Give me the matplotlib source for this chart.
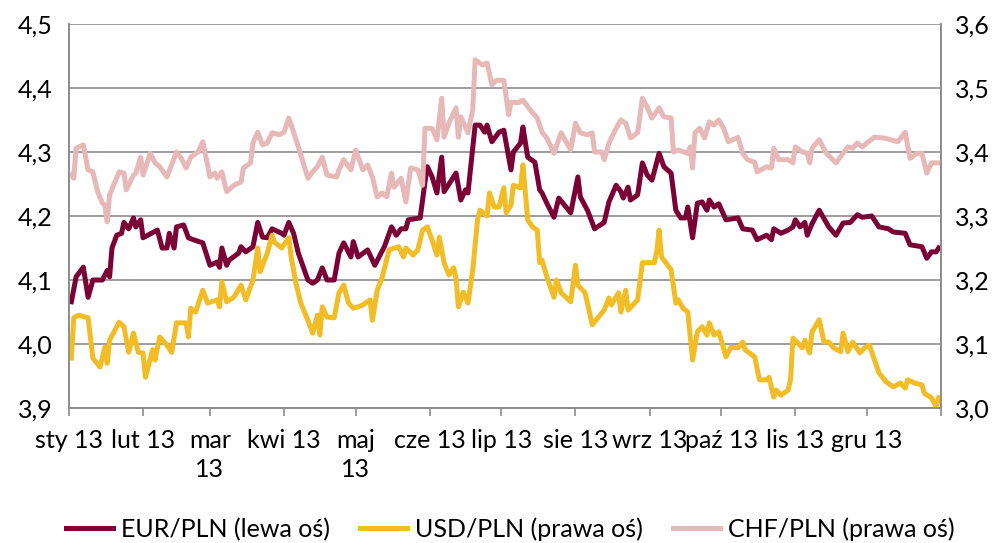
import matplotlib
matplotlib.use('Agg')
import matplotlib.pyplot as plt
import pandas as pd

plt.rcParams['font.family'] = ['Lato', 'DejaVu Sans']

start = pd.Timestamp('2013-01-01')

# day offsets from 1 Jan 2013 and values
eur_days = [1, 3, 6, 8, 10, 14, 16, 17, 18, 20, 22, 23, 25, 27, 28, 30, 31, 37, 39, 41,
            42, 44, 45, 48, 50, 52, 56, 59, 62, 63, 64, 66, 67, 71, 72, 74, 77, 79, 81, 83,
            85, 89, 90, 92, 94, 96, 100, 102, 104, 106, 108, 111, 113, 115, 118, 119, 121, 125, 128, 132,
            135, 137, 139, 141, 142, 147, 149, 150, 152, 154, 156, 157, 162, 164, 166, 167, 170, 172, 174, 175,
            177, 180, 182, 185, 186, 189, 190, 192, 195, 197, 198, 200, 203, 205, 210, 213, 214, 217, 220, 224,
            226, 229, 231, 232, 234, 235, 238, 240, 242, 244, 247, 249, 252, 254, 256, 258, 259, 261, 263, 265,
            267, 268, 270, 272, 275, 280, 282, 286, 288, 292, 294, 295, 298, 301, 303, 304, 306, 308, 309, 311,
            314, 318, 321, 324, 327, 330, 332, 336, 339, 343, 345, 350, 352, 357, 359, 361, 363, 364]
eur_pln = [4.066, 4.105, 4.12, 4.073, 4.10, 4.10, 4.115, 4.105, 4.15, 4.17, 4.173, 4.19, 4.18, 4.197, 4.183, 4.194, 4.166, 4.178, 4.15, 4.15,
           4.173, 4.15, 4.183, 4.186, 4.166, 4.163, 4.158, 4.123, 4.128, 4.12, 4.15, 4.123, 4.131, 4.142, 4.152, 4.144, 4.152, 4.19, 4.167, 4.166,
           4.18, 4.173, 4.17, 4.19, 4.173, 4.142, 4.10, 4.095, 4.10, 4.119, 4.10, 4.10, 4.142, 4.158, 4.136, 4.16, 4.136, 4.147, 4.123, 4.152,
           4.183, 4.17, 4.18, 4.18, 4.194, 4.197, 4.253, 4.277, 4.261, 4.236, 4.292, 4.238, 4.267, 4.225, 4.241, 4.236, 4.342, 4.342, 4.331, 4.342,
           4.316, 4.331, 4.334, 4.272, 4.30, 4.314, 4.339, 4.292, 4.284, 4.241, 4.236, 4.22, 4.198, 4.228, 4.205, 4.261, 4.23, 4.209, 4.18, 4.19,
           4.222, 4.248, 4.238, 4.228, 4.245, 4.225, 4.233, 4.283, 4.264, 4.256, 4.298, 4.277, 4.267, 4.209, 4.197, 4.197, 4.214, 4.166, 4.22, 4.222,
           4.209, 4.225, 4.214, 4.219, 4.194, 4.197, 4.18, 4.178, 4.163, 4.17, 4.163, 4.18, 4.173, 4.178, 4.183, 4.194, 4.183, 4.19, 4.17, 4.188,
           4.209, 4.183, 4.17, 4.189, 4.19, 4.202, 4.198, 4.20, 4.183, 4.18, 4.175, 4.173, 4.155, 4.152, 4.134, 4.144, 4.144, 4.15]

usd_days = [1, 2, 4, 8, 10, 13, 15, 16, 17, 21, 23, 25, 27, 29, 31, 32, 35, 36, 38, 41,
            43, 45, 49, 50, 51, 53, 56, 58, 62, 63, 64, 66, 69, 72, 74, 77, 79, 80, 83, 85,
            86, 89, 92, 93, 95, 97, 100, 102, 104, 105, 106, 108, 111, 113, 115, 117, 119, 121, 123, 126,
            127, 129, 131, 134, 138, 140, 141, 144, 146, 148, 150, 152, 154, 155, 157, 159, 161, 162, 163, 165,
            167, 169, 171, 172, 175, 176, 178, 180, 182, 183, 185, 186, 189, 190, 192, 194, 196, 197, 198, 200,
            203, 204, 206, 208, 210, 212, 213, 216, 217, 219, 224, 226, 227, 230, 231, 233, 234, 238, 240, 242,
            245, 246, 247, 248, 252, 254, 255, 257, 259, 261, 263, 265, 267, 268, 270, 272, 275, 277, 280, 282,
            283, 287, 289, 292, 293, 295, 296, 298, 301, 302, 303, 305, 307, 308, 310, 311, 312, 314, 316, 318,
            320, 323, 324, 326, 328, 331, 333, 335, 339, 342, 345, 348, 350, 351, 354, 357, 358, 361, 363, 364]
usd_pln = [3.078, 3.141, 3.145, 3.141, 3.078, 3.064, 3.095, 3.07, 3.106, 3.134, 3.127, 3.087, 3.117, 3.087, 3.086, 3.048, 3.091, 3.075, 3.111, 3.098,
           3.087, 3.133, 3.133, 3.111, 3.156, 3.15, 3.184, 3.164, 3.169, 3.158, 3.197, 3.166, 3.173, 3.192, 3.169, 3.20, 3.25, 3.213, 3.242, 3.27,
           3.259, 3.25, 3.266, 3.236, 3.195, 3.164, 3.137, 3.117, 3.145, 3.114, 3.158, 3.142, 3.141, 3.18, 3.192, 3.164, 3.156, 3.158, 3.161, 3.169,
           3.137, 3.184, 3.203, 3.247, 3.252, 3.236, 3.25, 3.239, 3.247, 3.278, 3.283, 3.262, 3.239, 3.267, 3.227, 3.208, 3.219, 3.203, 3.158, 3.181,
           3.164, 3.216, 3.294, 3.309, 3.30, 3.336, 3.314, 3.314, 3.344, 3.305, 3.317, 3.348, 3.344, 3.38, 3.294, 3.283, 3.278, 3.227, 3.231, 3.205,
           3.173, 3.20, 3.18, 3.173, 3.166, 3.223, 3.192, 3.18, 3.164, 3.13, 3.153, 3.172, 3.161, 3.18, 3.15, 3.184, 3.153, 3.169, 3.227, 3.227,
           3.227, 3.244, 3.278, 3.236, 3.216, 3.164, 3.169, 3.156, 3.15, 3.075, 3.119, 3.127, 3.114, 3.133, 3.114, 3.119, 3.08, 3.095, 3.094, 3.103,
           3.091, 3.08, 3.044, 3.044, 3.048, 3.017, 3.028, 3.02, 3.028, 3.044, 3.109, 3.102, 3.094, 3.106, 3.086, 3.119, 3.125, 3.138, 3.103, 3.103,
           3.094, 3.088, 3.117, 3.088, 3.103, 3.086, 3.094, 3.098, 3.055, 3.041, 3.033, 3.039, 3.031, 3.044, 3.039, 3.036, 3.023, 3.016, 3.002, 3.016]

chf_days = [1, 2, 3, 6, 8, 10, 12, 14, 15, 16, 17, 21, 23, 24, 27, 28, 30, 31, 34, 36,
            38, 41, 45, 47, 49, 51, 54, 56, 59, 61, 62, 64, 66, 69, 72, 73, 76, 77, 79, 81,
            83, 85, 88, 90, 92, 94, 96, 100, 102, 104, 106, 108, 112, 113, 115, 118, 120, 123, 125, 127,
            129, 131, 133, 135, 136, 139, 141, 143, 146, 148, 149, 152, 154, 156, 157, 159, 162, 163, 164, 167,
            169, 170, 173, 175, 177, 179, 182, 184, 185, 188, 190, 193, 196, 198, 200, 203, 206, 210, 212, 214,
            217, 219, 220, 223, 224, 226, 229, 231, 233, 235, 238, 240, 242, 244, 247, 249, 252, 253, 255, 259,
            260, 261, 262, 264, 266, 268, 270, 272, 274, 276, 280, 282, 284, 287, 288, 292, 294, 295, 297, 301,
            303, 304, 307, 309, 310, 311, 314, 317, 321, 326, 328, 330, 332, 334, 337, 341, 344, 347, 350, 352,
            355, 357, 359, 361, 364]
chf_pln = [3.364, 3.359, 3.406, 3.411, 3.372, 3.369, 3.338, 3.32, 3.317, 3.291, 3.333, 3.369, 3.367, 3.341, 3.364, 3.367, 3.392, 3.364, 3.398, 3.383,
           3.377, 3.361, 3.40, 3.39, 3.375, 3.392, 3.40, 3.416, 3.361, 3.367, 3.359, 3.369, 3.338, 3.348, 3.353, 3.375, 3.383, 3.414, 3.431, 3.411,
           3.414, 3.43, 3.427, 3.431, 3.453, 3.431, 3.408, 3.359, 3.369, 3.377, 3.392, 3.364, 3.361, 3.372, 3.388, 3.372, 3.403, 3.372, 3.38, 3.361,
           3.33, 3.336, 3.33, 3.367, 3.345, 3.359, 3.322, 3.375, 3.372, 3.348, 3.437, 3.437, 3.419, 3.484, 3.423, 3.445, 3.469, 3.423, 3.455, 3.43,
           3.466, 3.544, 3.536, 3.539, 3.505, 3.512, 3.512, 3.458, 3.478, 3.477, 3.481, 3.466, 3.453, 3.431, 3.422, 3.398, 3.43, 3.403, 3.445, 3.43,
           3.427, 3.43, 3.40, 3.40, 3.388, 3.414, 3.437, 3.45, 3.445, 3.422, 3.43, 3.484, 3.47, 3.453, 3.469, 3.455, 3.453, 3.40, 3.403, 3.398,
           3.408, 3.375, 3.43, 3.437, 3.422, 3.447, 3.442, 3.45, 3.437, 3.416, 3.423, 3.398, 3.388, 3.384, 3.369, 3.377, 3.375, 3.406, 3.388, 3.388,
           3.383, 3.408, 3.40, 3.398, 3.383, 3.406, 3.419, 3.398, 3.383, 3.408, 3.406, 3.414, 3.408, 3.414, 3.423, 3.422, 3.419, 3.416, 3.431, 3.39,
           3.398, 3.398, 3.367, 3.383, 3.383]

month_labels = ['sty 13', 'lut 13', 'mar\n13', 'kwi 13', 'maj\n13', 'cze 13', 'lip 13',
                'sie 13', 'wrz 13', 'paź 13', 'lis 13', 'gru 13', '']
left_ticks = [3.9, 4.0, 4.1, 4.2, 4.3, 4.4, 4.5]
right_ticks = [3.0, 3.1, 3.2, 3.3, 3.4, 3.5, 3.6]


def to_dates(days):
    return start + pd.to_timedelta(days, unit='D')


grey = '#8c8c8c'
fs = 18

fig = plt.figure(figsize=(10.04, 5.43), dpi=100)
ax = fig.add_axes([0.0687, 0.2486, 0.8686, 0.7072])
ax2 = ax.twinx()

l1, = ax.plot(to_dates(eur_days), eur_pln, color='#7a0036', lw=3.6, solid_joinstyle='round')
l2, = ax2.plot(to_dates(usd_days), usd_pln, color='#f2bc26', lw=3.6, solid_joinstyle='round')
l3, = ax2.plot(to_dates(chf_days), chf_pln, color='#e6b8b7', lw=3.6, solid_joinstyle='round')
# keep CHF under the other lines
l3.set_zorder(1)
l2.set_zorder(2)

ax.set_ylim(3.9, 4.5)
ax2.set_ylim(3.0, 3.6)
ax.set_yticks(left_ticks)
ax.set_yticklabels([f'{v:.1f}'.replace('.', ',') for v in left_ticks])
ax2.set_yticks(right_ticks)
ax2.set_yticklabels([f'{v:.1f}'.replace('.', ',') for v in right_ticks])

ax.set_xlim(pd.Timestamp('2013-01-01'), pd.Timestamp('2014-01-01'))
ticks = pd.date_range('2013-01-01', '2014-01-01', freq='MS')
ax.set_xticks(ticks)
ax.set_xticklabels(month_labels, linespacing=1.35, va='top')

ax.grid(True, axis='y', color=grey, lw=1.2)
ax.set_axisbelow(True)

for a in (ax, ax2):
    a.spines['top'].set_visible(False)
    for s in ('left', 'right', 'bottom'):
        a.spines[s].set_color(grey)
        a.spines[s].set_linewidth(1.2)

ax.tick_params(axis='x', length=6, width=1.2, color=grey, pad=9, labelsize=fs)
ax.tick_params(axis='y', length=0, pad=12, labelsize=fs)
ax2.tick_params(axis='y', length=0, pad=10, labelsize=fs)

fig.legend([l1, l2, l3], ['EUR/PLN (lewa oś)', 'USD/PLN (prawa oś)', 'CHF/PLN (prawa oś)'],
           loc='center', bbox_to_anchor=(0.508, 0.025), ncol=3, frameon=False,
           fontsize=fs, handlelength=1.9, handletextpad=0.3, columnspacing=1.2)

fig.savefig('out.png', dpi=100)
